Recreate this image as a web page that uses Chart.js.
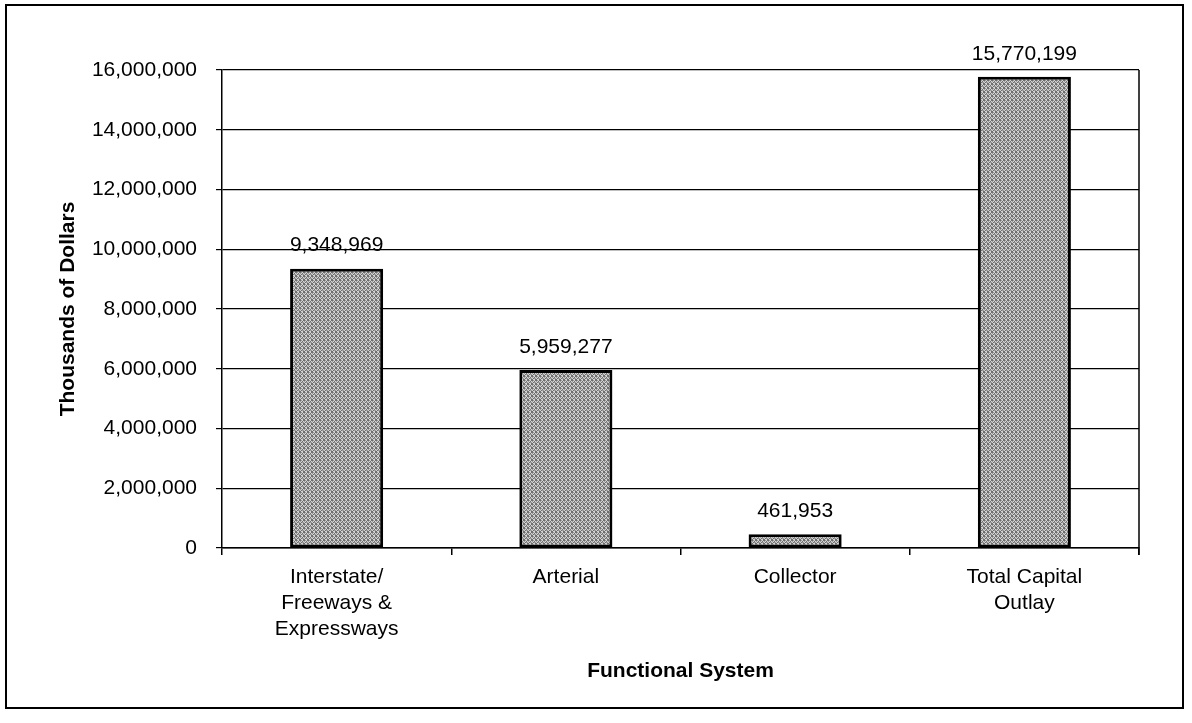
<!DOCTYPE html>
<html>
<head>
<meta charset="utf-8">
<script src="https://cdn.jsdelivr.net/npm/chart.js@4.4.1/dist/chart.umd.min.js"></script>
<style>
  html, body { margin: 0; padding: 0; background: #fff; }
  #wrap { position: absolute; left: 0; top: 0; width: 1192px; height: 723px; }
</style>
</head>
<body>
<div id="wrap"><canvas id="c" width="1192" height="723"></canvas></div>
<script>
const categories = [["Interstate/", "Freeways &", "Expressways"], "Arterial", "Collector", ["Total Capital", "Outlay"]];
const values = [9348969, 5959277, 461953, 15770199];
const yTicks = [0, 2000000, 4000000, 6000000, 8000000, 10000000, 12000000, 14000000, 16000000];
const xTitle = "Functional System";
const yTitle = "Thousands of Dollars";

const FONT = "'Liberation Sans', Arial, sans-serif";

function makePattern() {
  const p = document.createElement('canvas');
  p.width = 4; p.height = 4;
  const g = p.getContext('2d');
  g.fillStyle = '#d4d4d4'; g.fillRect(0, 0, 4, 4);
  g.fillStyle = '#6e6e6e';
  [[0,0],[2,1],[1,2],[3,3],[3,0],[0,3]].forEach(([x, y]) => g.fillRect(x, y, 1, 1));
  g.fillStyle = '#9a9a9a';
  [[1,0],[2,2],[0,1],[3,2]].forEach(([x, y]) => g.fillRect(x, y, 1, 1));
  return g.createPattern(p, 'repeat');
}

const frame = {
  id: 'frame',
  afterDraw(chart) {
    const ctx = chart.ctx, a = chart.chartArea;
    ctx.save();
    ctx.strokeStyle = '#000';
    ctx.lineWidth = 1.5;
    ctx.beginPath();
    ctx.moveTo(a.right, a.top);
    ctx.lineTo(a.right, a.bottom + 7);
    ctx.stroke();
    ctx.lineWidth = 2;
    ctx.strokeRect(6, 5, 1177, 703);
    ctx.restore();
  }
};

const valueLabels = {
  id: 'valueLabels',
  afterDatasetsDraw(chart) {
    const ctx = chart.ctx;
    const meta = chart.getDatasetMeta(0);
    ctx.save();
    ctx.font = "21px " + FONT;
    ctx.fillStyle = '#000';
    ctx.textAlign = 'center';
    ctx.textBaseline = 'middle';
    meta.data.forEach((bar, i) => {
      ctx.fillText(values[i].toLocaleString('en-US'), bar.x, bar.y - 23);
    });
    ctx.restore();
  }
};

new Chart(document.getElementById('c'), {
  type: 'bar',
  data: {
    labels: categories,
    datasets: [{
      data: values,
      backgroundColor: makePattern(),
      borderColor: '#000',
      borderWidth: 3,
      borderSkipped: false,
      categoryPercentage: 1,
      barPercentage: 0.406
    }]
  },
  options: {
    responsive: false,
    animation: false,
    devicePixelRatio: 1,
    layout: { padding: { left: 0, right: 53, top: 70, bottom: 0 } },
    plugins: { legend: { display: false }, tooltip: { enabled: false } },
    scales: {
      x: {
        offset: true,
        grid: { offset: true, drawOnChartArea: false, drawTicks: true, tickLength: 7, color: '#000', lineWidth: 1.5 },
        border: { display: true, color: '#000', width: 1.5 },
        ticks: { color: '#000', font: { family: FONT, size: 21, lineHeight: 1.25 }, padding: 9, maxRotation: 0, autoSkip: false },
        title: { display: true, text: xTitle, color: '#000', font: { family: FONT, size: 21, weight: 'bold' }, padding: { top: 0, bottom: 39 } },
        afterFit(scale) { scale.height = 175; }
      },
      y: {
        min: 0,
        max: 16000000,
        afterBuildTicks(scale) { scale.ticks = yTicks.map(v => ({ value: v })); },
        grid: { color: '#000', lineWidth: 1.2, tickLength: 6 },
        border: { display: true, color: '#000', width: 1.5 },
        ticks: { color: '#000', font: { family: FONT, size: 21 }, padding: 19, callback: v => Number(v).toLocaleString('en-US') },
        title: { display: true, text: yTitle, color: '#000', font: { family: FONT, size: 21, weight: 'bold' }, padding: { top: 56, bottom: 0 } },
        afterFit(scale) { scale.width = 222; }
      }
    }
  },
  plugins: [frame, valueLabels]
});
</script>
</body>
</html>
